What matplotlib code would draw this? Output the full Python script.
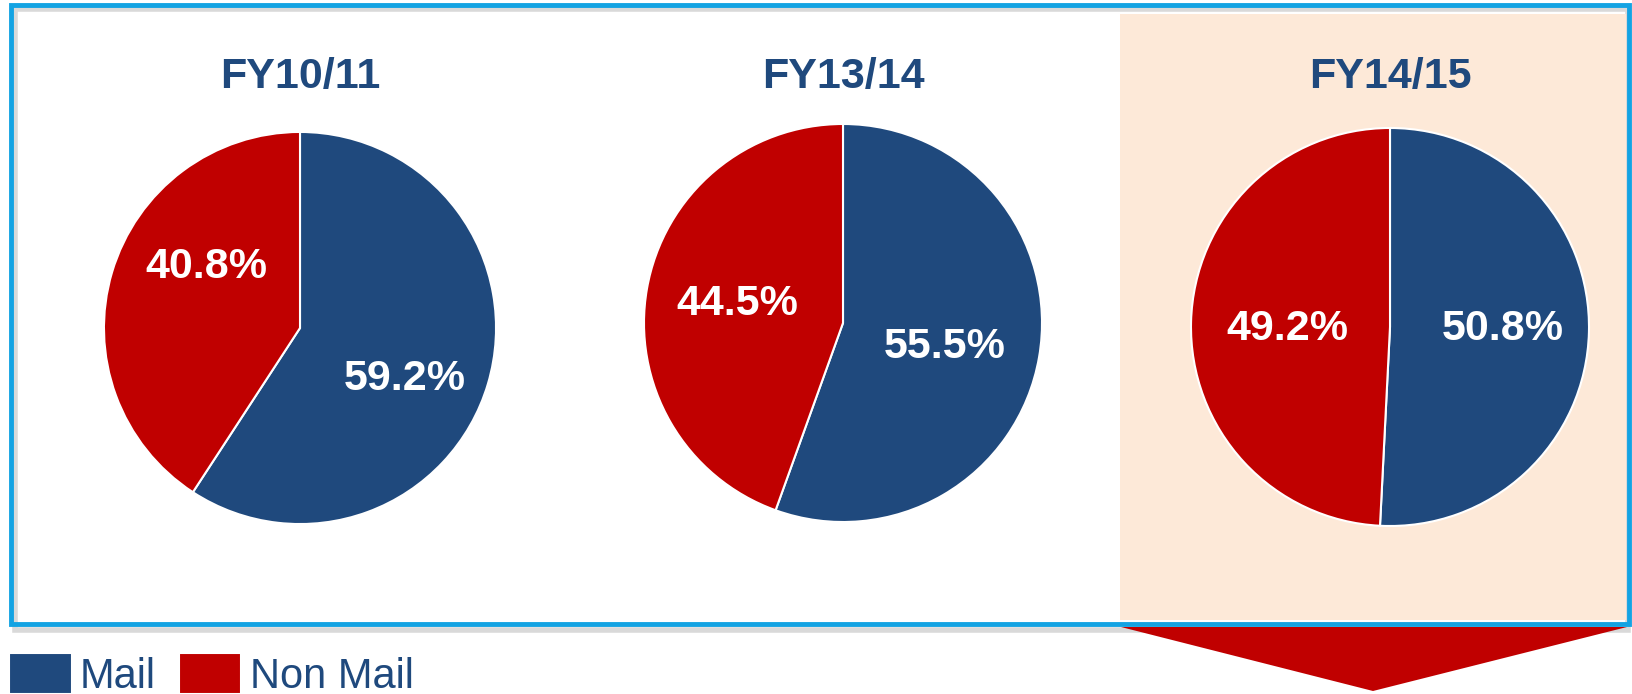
import matplotlib.pyplot as plt
from matplotlib.patches import Rectangle, Polygon

plt.rcParams['font.family'] = ['Liberation Sans', 'DejaVu Sans']

# data
years = ["FY10/11", "FY13/14", "FY14/15"]
categories = ["Mail", "Non Mail"]
mail_share = [59.2, 55.5, 50.8]
non_mail_share = [40.8, 44.5, 49.2]

blue = "#1F497D"
red = "#C00000"
peach = "#FDE9D8"
border_blue = "#13A3E3"

W, H = 1632, 694
fig = plt.figure(figsize=(W / 100, H / 100), dpi=100)

# background layer in pixel coords
bg = fig.add_axes([0, 0, 1, 1])
bg.set_xlim(0, W)
bg.set_ylim(H, 0)
bg.axis("off")

bg.add_patch(Rectangle((15, 9), 1613, 621, fill=False, ec="#D9D9D9", lw=4))
bg.add_patch(Rectangle((11, 5), 1618, 619, fill=False, ec=border_blue, lw=3.5, zorder=3))
bg.add_patch(Rectangle((1120, 14), 506, 606, fc=peach, ec="none", zorder=1))
bg.add_patch(Polygon([(1121, 627), (1627, 627), (1373, 691)], closed=True, fc=red, ec="none", zorder=4))

# pie centres / radius in pixels, label spots in radius units (mail, non mail)
centres = [(300, 328), (843, 323), (1390, 327)]
radii = [198, 201, 201]
label_pos = [[(0.534, -0.262), (-0.476, 0.309)],
             [(0.51, -0.12), (-0.53, 0.094)],
             [(0.568, -0.01), (-0.516, -0.01)]]

wedges = None
for i in range(len(years)):
    cx, cy = centres[i]
    r = radii[i]
    ax = fig.add_axes([(cx - r) / W, 1 - (cy + r) / H, 2 * r / W, 2 * r / H])
    vals = [mail_share[i], non_mail_share[i]]
    wedges, texts, autotexts = ax.pie(
        vals, colors=[blue, red], startangle=90, counterclock=False,
        autopct="%.1f%%", pctdistance=0.59, radius=1,
        wedgeprops=dict(edgecolor="white", linewidth=1.5),
        textprops=dict(color="white", fontsize=31, fontweight="bold"))
    for t, p in zip(autotexts, label_pos[i]):
        t.set_position(p)
    ax.set_xlim(-1.01, 1.01)
    ax.set_ylim(-1.01, 1.01)
    bg.text(cx, 77, years[i], ha="center", va="center", fontsize=31,
            fontweight="bold", color=blue, zorder=4)

fig.legend(wedges, categories, loc="lower left", bbox_to_anchor=(7 / W, -5 / H),
           frameon=False, ncol=2, fontsize=30, handlelength=1.5, handleheight=1.13,
           handletextpad=0.2, columnspacing=0.55, borderpad=0.05, borderaxespad=0,
           labelcolor=blue)

fig.savefig("out.png", dpi=100)
